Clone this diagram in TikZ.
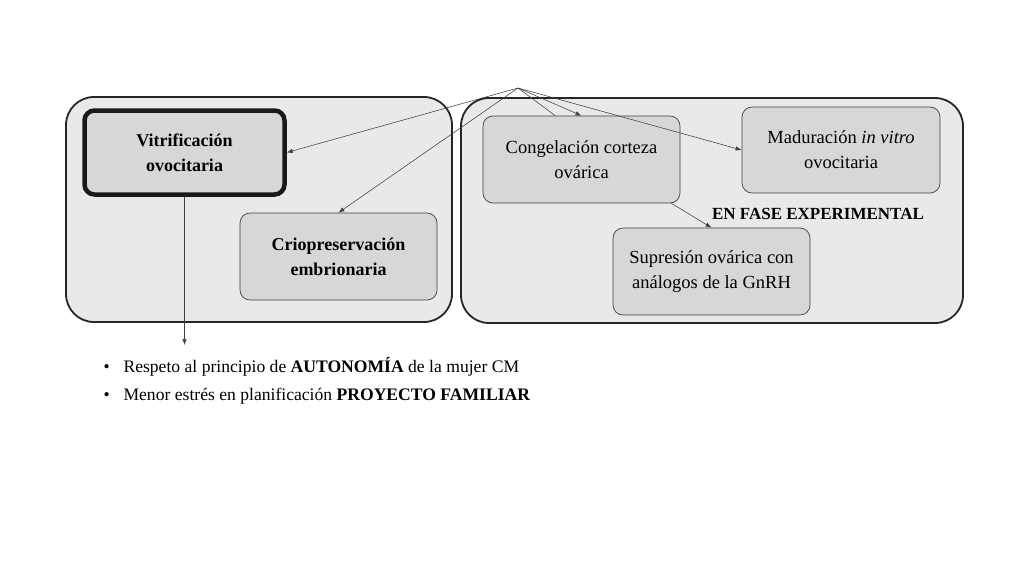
\documentclass[tikz,border=0pt]{standalone}
\usepackage{fontspec}
\setmainfont{Liberation Serif}
\usetikzlibrary{arrows.meta}
\definecolor{outerfill}{RGB}{233,233,233}
\definecolor{innerfill}{RGB}{215,215,215}

\begin{document}
\begin{tikzpicture}[x=1pt,y=-1pt,
	outer/.style={draw=black!85,line width=1.8pt,fill=outerfill,rounded corners=28pt},
	box/.style={draw=black!75,line width=0.7pt,fill=innerfill,rounded corners=10pt,
		minimum width=197pt,minimum height=87pt,align=center,font=\fontsize{18.5}{25}\selectfont},
	boldbox/.style={box,font=\fontsize{18}{25}\selectfont\bfseries},
	link/.style={draw=black!75,line width=0.55pt,-{Latex[length=6pt,width=4.5pt]}},
	item/.style={anchor=base west,font=\fontsize{17.6}{20}\selectfont}]
	\useasboundingbox (0,0) rectangle (1024,576);

	% groups
	\draw[outer] (66,97) rectangle (452,322);
	\draw[outer] (461,98) rectangle (963,323);

	\node[boldbox,line width=4.5pt,draw=black!90,minimum width=200pt,minimum height=84pt] (vit) at (184.5,152.5) {Vitrificación\\ovocitaria};
	\node[boldbox] (crio) at (338.5,256.5) {Criopreservación\\embrionaria};
	\node[box] (cong) at (581.5,159.5) {Congelación corteza\\ovárica};
	\node[box,minimum width=198pt,minimum height=86pt] (mad) at (841,150) {Maduración \textit{in vitro}\\ovocitaria};
	\node[box] (sup) at (711.5,271.5) {Supresión ovárica con\\análogos de la GnRH};
	\node[font=\fontsize{17}{20}\selectfont\bfseries] (fase) at (818,214) {EN FASE EXPERIMENTAL};

	\coordinate (apex) at (518,88);
	\coordinate (listtop) at (184.5,345);

	\path (apex) edge[link] (vit.east);
	\path (apex) edge[link] (crio.north);
	\path (apex) edge[draw=black!75,line width=0.55pt] (cong.121);
	\path (apex) edge[link] (cong.north);
	\path (apex) edge[link] (mad.west);
	\path (cong.-26) edge[link] (sup.north);
	\path (vit.south) edge[link] (listtop);

	% list
	\node[item] (b1) at (100,372) {\textbullet};
	\node[item] (l1) at (120,372) {Respeto al principio de \textbf{AUTONOMÍA} de la mujer CM};
	\node[item] (b2) at (100,400) {\textbullet};
	\node[item] (l2) at (120,400) {Menor estrés en planificación \textbf{PROYECTO FAMILIAR}};
\end{tikzpicture}
\end{document}
